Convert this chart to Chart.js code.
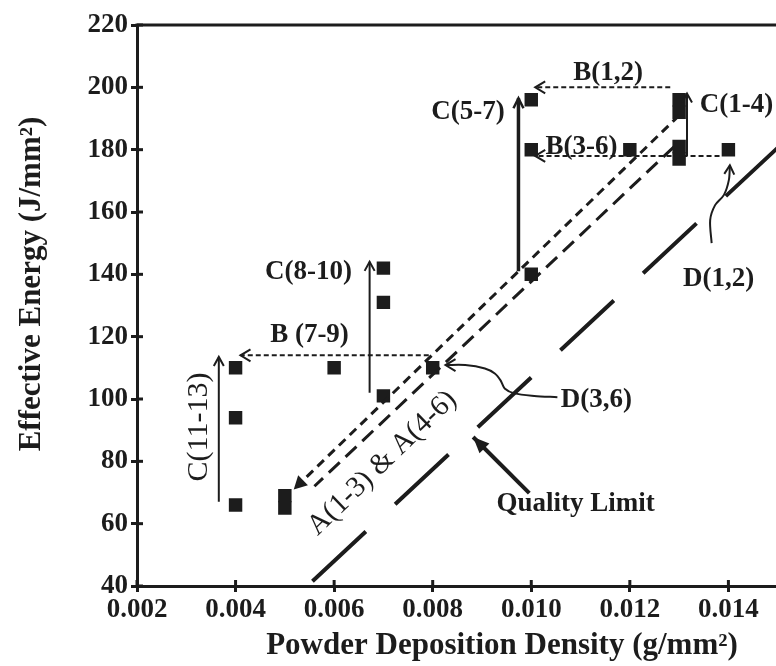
<!DOCTYPE html>
<html>
<head>
<meta charset="utf-8">
<script src="https://cdn.jsdelivr.net/npm/chart.js@4.4.0/dist/chart.umd.min.js"></script>
<style>
  html, body { margin: 0; padding: 0; background: #fff; overflow: hidden; }
  #wrap { width: 776px; height: 666px; overflow: hidden; }
</style>
</head>
<body>
<div id="wrap"><canvas id="chart" width="800" height="666"></canvas></div>
<script>
// tick labels
const xTicks = [0.002, 0.004, 0.006, 0.008, 0.010, 0.012, 0.014];
const yTicks = [40, 60, 80, 100, 120, 140, 160, 180, 200, 220];

// measured runs: powder deposition density (g/mm2) vs effective energy (J/mm2)
const density = [0.004, 0.004, 0.004, 0.005, 0.005, 0.006, 0.007, 0.007, 0.007, 0.008,
                 0.010, 0.010, 0.010, 0.012, 0.013, 0.013, 0.013, 0.013, 0.014];
const energy  = [110, 94, 66, 69, 65, 110, 142, 131, 101, 110,
                 196, 180, 140, 180, 196, 192, 181, 177, 180];

// A(1-3) / A(4-6) trend lines
const a1x = [0.0130, 0.00518];
const a1y = [191, 71];
const a2x = [0.0129, 0.0056];
const a2y = [181, 72];

// quality limit line
const qx = [0.00556, 0.0158];
const qy = [41.5, 192.4];

// C arrows (vertical, bottom -> top)
const c1113x = [0.00366, 0.00366], c1113y = [67, 113.5];
const c810x  = [0.00672, 0.00672], c810y  = [102, 144];
const c57x   = [0.00974, 0.00974], c57y   = [141, 196.5];
const c14x   = [0.01316, 0.01316], c14y   = [178, 198];

// B arrows (horizontal, right -> left)
const b12x  = [0.01282, 0.01008], b12y  = [200, 200];
const b36x  = [0.01382, 0.01008], b36y  = [178, 178];
const b79x  = [0.00792, 0.0041],  b79y  = [114, 114];

// D pointer curves
const d12x = [0.01366, 0.01363, 0.01373, 0.01391, 0.01401, 0.01403];
const d12y = [150, 157.4, 162.2, 165.5, 170.3, 175];
const d36x = [0.01053, 0.01006, 0.00966, 0.00946, 0.00938, 0.00926, 0.00906, 0.00866, 0.00826];
const d36y = [100.6, 101.0, 101.8, 103.4, 105.9, 108.2, 109.8, 110.9, 110.9];

// quality limit pointer
const qax = [0.00996, 0.00882];
const qay = [69.8, 87.8];

const ink = '#1c1c1c';
const serif = "'Liberation Serif', 'Times New Roman', serif";

function path(xs, ys) {
  return xs.map((x, i) => ({ x: x, y: ys[i] }));
}

function line(xs, ys, width, dash, head, tension) {
  return {
    data: path(xs, ys),
    showLine: true,
    borderColor: ink,
    borderWidth: width,
    borderDash: dash || [],
    pointRadius: 0,
    tension: tension || 0,
    head: head
  };
}

const openHead = { len: 9, half: 5, fill: false, width: 2 };
const bHead = { len: 10, half: 6, fill: false, width: 2 };
const fillHead = { len: 16, half: 7, fill: true };

const labels = [
  { text: 'B(1,2)', x: 0.01156, y: 204.6, align: 'center' },
  { text: 'C(5-7)', x: 0.00946, y: 192, align: 'right' },
  { text: 'C(1-4)', x: 0.01342, y: 194.3, align: 'left' },
  { text: 'B(3-6)', x: 0.01102, y: 181, align: 'center' },
  { text: 'D(1,2)', x: 0.0138, y: 138.5, align: 'center' },
  { text: 'C(8-10)', x: 0.00636, y: 140.7, align: 'right' },
  { text: 'B (7-9)', x: 0.0055, y: 120.5, align: 'center' },
  { text: 'C(11-13)', x: 0.00326, y: 91, align: 'center', rot: -90, bold: false, size: 30 },
  { text: 'A(1-3) & A(4-6)', x: 0.00698, y: 79.4, align: 'center', rot: -44, bold: false, size: 29 },
  { text: 'D(3,6)', x: 0.0106, y: 99.6, align: 'left' },
  { text: 'Quality Limit', x: 0.0109, y: 66.3, align: 'center' }
];

const figurePlugin = {
  id: 'figure',
  afterDraw(chart) {
    const ctx = chart.ctx, area = chart.chartArea;
    const sx = chart.scales.x, sy = chart.scales.y;
    ctx.save();
    ctx.strokeStyle = ink;
    ctx.fillStyle = ink;
    ctx.setLineDash([]);

    // top frame line
    ctx.lineWidth = 3;
    ctx.beginPath();
    ctx.moveTo(area.left - 1.5, area.top);
    ctx.lineTo(chart.width, area.top);
    ctx.stroke();

    // inner half of tick marks
    sx.ticks.forEach(t => {
      const x = sx.getPixelForValue(t.value);
      ctx.beginPath(); ctx.moveTo(x, area.bottom); ctx.lineTo(x, area.bottom - 6); ctx.stroke();
    });
    sy.ticks.forEach(t => {
      const y = sy.getPixelForValue(t.value);
      ctx.beginPath(); ctx.moveTo(area.left, y); ctx.lineTo(area.left + 6, y); ctx.stroke();
    });

    // arrow heads
    chart.data.datasets.forEach((ds, i) => {
      if (!ds.head) return;
      const pts = chart.getDatasetMeta(i).data;
      const tip = pts[pts.length - 1], from = pts[pts.length - 2];
      const h = ds.head;
      const ang = Math.atan2(tip.y - from.y, tip.x - from.x);
      const bx = tip.x - h.len * Math.cos(ang), by = tip.y - h.len * Math.sin(ang);
      const nx = -Math.sin(ang) * h.half, ny = Math.cos(ang) * h.half;
      ctx.beginPath();
      ctx.moveTo(bx + nx, by + ny);
      ctx.lineTo(tip.x, tip.y);
      ctx.lineTo(bx - nx, by - ny);
      if (h.fill) { ctx.closePath(); ctx.fill(); }
      else { ctx.lineWidth = h.width; ctx.stroke(); }
    });

    // annotations
    ctx.textBaseline = 'middle';
    labels.forEach(l => {
      const px = sx.getPixelForValue(l.x), py = sy.getPixelForValue(l.y);
      ctx.font = (l.bold === false ? '' : 'bold ') + (l.size || 27) + 'px ' + serif;
      ctx.textAlign = l.align;
      ctx.save();
      ctx.translate(px, py);
      if (l.rot) ctx.rotate(l.rot * Math.PI / 180);
      ctx.fillText(l.text, 0, 0);
      ctx.restore();
    });

    // axis titles
    ctx.font = 'bold 31px ' + serif;
    ctx.textAlign = 'center';
    ctx.fillText('Powder Deposition Density (g/mm\u00B2)', 502, 646);
    ctx.save();
    ctx.translate(32, 284);
    ctx.rotate(-Math.PI / 2);
    ctx.fillText('Effective Energy (J/mm\u00B2)', 0, 0);
    ctx.restore();

    ctx.restore();
  }
};

const tickFont = { family: serif, size: 27, weight: 'bold' };

new Chart(document.getElementById('chart'), {
  type: 'scatter',
  data: {
    datasets: [
      line(qx, qy, 4, [73, 40]),
      line(a1x, a1y, 3, [9, 6], { len: 13, half: 7, fill: true }),
      line(a2x, a2y, 3, [15, 8]),
      line(c1113x, c1113y, 2, [], openHead),
      line(c810x, c810y, 2, [], openHead),
      line(c57x, c57y, 3.5, [], { len: 10, half: 5, fill: false, width: 2.5 }),
      line(c14x, c14y, 2, [], openHead),
      line(b12x, b12y, 2, [5, 3], bHead),
      line(b36x, b36y, 2, [5, 3], bHead),
      line(b79x, b79y, 2, [5, 3], bHead),
      line(d12x, d12y, 2, [], openHead, 0.3),
      line(d36x, d36y, 2, [], bHead, 0.3),
      line(qax, qay, 4, [], fillHead),
      {
        data: path(density, energy),
        pointStyle: 'rect',
        pointRadius: 9.5,
        backgroundColor: ink,
        borderWidth: 0
      }
    ]
  },
  options: {
    responsive: false,
    animation: false,
    layout: { padding: { top: 25, left: 0, right: 0, bottom: 0 } },
    plugins: { legend: { display: false }, tooltip: { enabled: false } },
    scales: {
      x: {
        type: 'linear',
        min: 0.002,
        max: 0.01526,
        afterBuildTicks: s => { s.ticks = xTicks.map(v => ({ value: v })); },
        afterFit: s => { s.height = 80; },
        ticks: { callback: v => v.toFixed(3), font: tickFont, color: ink, padding: 2, maxRotation: 0, autoSkip: false },
        grid: { drawOnChartArea: false, color: ink, lineWidth: 3, tickLength: 6 },
        border: { color: ink, width: 3 }
      },
      y: {
        type: 'linear',
        min: 40,
        max: 220,
        afterBuildTicks: s => { s.ticks = yTicks.map(v => ({ value: v })); },
        afterFit: s => { s.width = 137; },
        ticks: { font: tickFont, color: ink, padding: 3, autoSkip: false },
        grid: { drawOnChartArea: false, color: ink, lineWidth: 3, tickLength: 6 },
        border: { color: ink, width: 3 }
      }
    }
  },
  plugins: [figurePlugin]
});
</script>
</body>
</html>
